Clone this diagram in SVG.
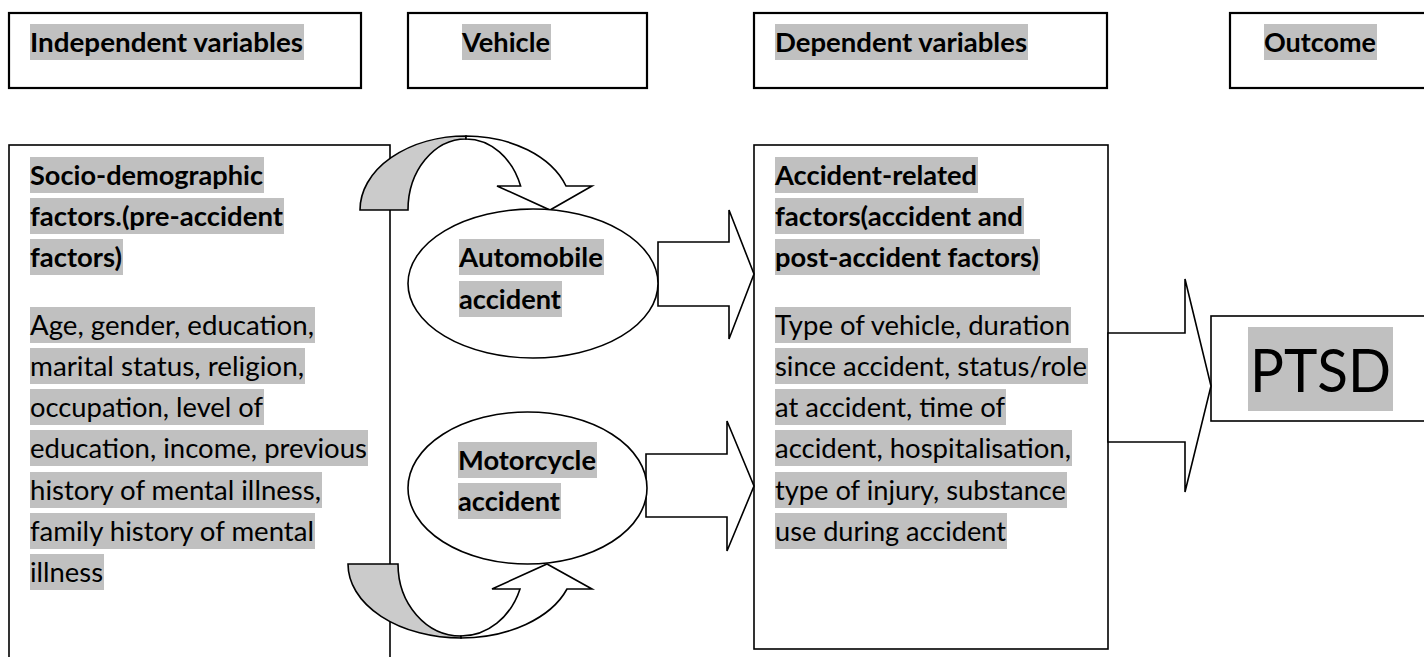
<svg xmlns="http://www.w3.org/2000/svg" width="1424" height="657" viewBox="0 0 1424 657">
<style>
.box{fill:#fff;stroke:#000;stroke-width:1.6}
.hbox{fill:#fff;stroke:#000;stroke-width:2.2}
.hl{fill:#c0c0c0}
.b{font-family:Lato,"Noto Sans",sans-serif;font-weight:bold;font-size:27px;fill:#000}
.r{font-family:Lato,"Noto Sans",sans-serif;font-size:27px;fill:#000}
.big{font-family:Lato,"Noto Sans",sans-serif;font-size:60px;fill:#000}
.arr{fill:#fff;stroke:#000;stroke-width:1.6;stroke-linejoin:miter}
.back{fill:#cbcbcb;stroke:#000;stroke-width:1.6}
</style>
<rect width="1424" height="657" fill="#fff"/>

<g id="hdr-independent">
<rect class="hbox" x="9" y="13" width="352" height="75"/>
<rect class="hl" x="30" y="24" width="274" height="36"/>
<text class="b" x="30" y="52" textLength="273" lengthAdjust="spacingAndGlyphs">Independent variables</text>
</g>
<g id="hdr-vehicle">
<rect class="hbox" x="408" y="13" width="239" height="75"/>
<rect class="hl" x="462" y="24" width="89" height="36"/>
<text class="b" x="462" y="52" textLength="88" lengthAdjust="spacingAndGlyphs">Vehicle</text>
</g>
<g id="hdr-dependent">
<rect class="hbox" x="754" y="13" width="353" height="75"/>
<rect class="hl" x="775" y="24" width="253" height="36"/>
<text class="b" x="775" y="52" textLength="252" lengthAdjust="spacingAndGlyphs">Dependent variables</text>
</g>
<g id="hdr-outcome">
<rect class="hbox" x="1230" y="13" width="220" height="75"/>
<rect class="hl" x="1264" y="24" width="113" height="36"/>
<text class="b" x="1264" y="52" textLength="112" lengthAdjust="spacingAndGlyphs">Outcome</text>
</g>

<g id="socio">
<rect class="box" x="9" y="145" width="381" height="560"/>
<rect class="hl" x="30" y="157" width="234" height="36"/>
<rect class="hl" x="30" y="198" width="254" height="36"/>
<rect class="hl" x="30" y="239" width="93" height="36"/>
<rect class="hl" x="30" y="307" width="285" height="36"/>
<rect class="hl" x="30" y="348" width="275" height="36"/>
<rect class="hl" x="30" y="389" width="234" height="36"/>
<rect class="hl" x="30" y="430" width="338" height="36"/>
<rect class="hl" x="30" y="472" width="292" height="36"/>
<rect class="hl" x="30" y="513" width="285" height="36"/>
<rect class="hl" x="30" y="554" width="74" height="36"/>
<text class="b" x="30" y="185" textLength="233" lengthAdjust="spacingAndGlyphs">Socio-demographic</text>
<text class="b" x="30" y="226" textLength="253" lengthAdjust="spacingAndGlyphs">factors.(pre-accident</text>
<text class="b" x="30" y="267" textLength="92" lengthAdjust="spacingAndGlyphs">factors)</text>
<text class="r" x="30" y="335" textLength="284" lengthAdjust="spacingAndGlyphs">Age, gender, education,</text>
<text class="r" x="30" y="376" textLength="274" lengthAdjust="spacingAndGlyphs">marital status, religion,</text>
<text class="r" x="30" y="417" textLength="233" lengthAdjust="spacingAndGlyphs">occupation, level of</text>
<text class="r" x="30" y="458" textLength="337" lengthAdjust="spacingAndGlyphs">education, income, previous</text>
<text class="r" x="30" y="500" textLength="291" lengthAdjust="spacingAndGlyphs">history of mental illness,</text>
<text class="r" x="30" y="541" textLength="284" lengthAdjust="spacingAndGlyphs">family history of mental</text>
<text class="r" x="30" y="582" textLength="73" lengthAdjust="spacingAndGlyphs">illness</text>
</g>

<g id="accident-factors">
<rect class="box" x="754" y="145" width="354" height="504"/>
<rect class="hl" x="775" y="157" width="203" height="36"/>
<rect class="hl" x="775" y="198" width="249" height="36"/>
<rect class="hl" x="775" y="239" width="265" height="36"/>
<rect class="hl" x="775" y="307" width="296" height="36"/>
<rect class="hl" x="775" y="348" width="313" height="36"/>
<rect class="hl" x="775" y="389" width="231" height="36"/>
<rect class="hl" x="775" y="430" width="297" height="36"/>
<rect class="hl" x="775" y="472" width="292" height="36"/>
<rect class="hl" x="775" y="513" width="232" height="36"/>
<text class="b" x="775" y="185" textLength="202" lengthAdjust="spacingAndGlyphs">Accident-related</text>
<text class="b" x="775" y="226" textLength="248" lengthAdjust="spacingAndGlyphs">factors(accident and</text>
<text class="b" x="775" y="267" textLength="264" lengthAdjust="spacingAndGlyphs">post-accident factors)</text>
<text class="r" x="775" y="335" textLength="295" lengthAdjust="spacingAndGlyphs">Type of vehicle, duration</text>
<text class="r" x="775" y="376" textLength="312" lengthAdjust="spacingAndGlyphs">since accident, status/role</text>
<text class="r" x="775" y="417" textLength="230" lengthAdjust="spacingAndGlyphs">at accident, time of</text>
<text class="r" x="775" y="458" textLength="296" lengthAdjust="spacingAndGlyphs">accident, hospitalisation,</text>
<text class="r" x="775" y="500" textLength="291" lengthAdjust="spacingAndGlyphs">type of injury, substance</text>
<text class="r" x="775" y="541" textLength="231" lengthAdjust="spacingAndGlyphs">use during accident</text>
</g>

<g id="ptsd">
<rect class="box" x="1211" y="316" width="240" height="105"/>
<rect class="hl" x="1248" y="327" width="145" height="84"/>
<text class="big" x="1250" y="392" textLength="141" lengthAdjust="spacingAndGlyphs">PTSD</text>
</g>

<g id="connectors">
<polygon class="arr" points="658,242 729,242 729,210 754,274 729,339 729,306 658,306"/>
<polygon class="arr" points="646,454 727,454 727,421 754,486 727,551 727,517 646,517"/>
<polygon class="arr" points="1108,333 1185,333 1185,279 1211,386 1185,492 1185,442 1108,442"/>
<path class="back" d="M360,210 A106,74 0 0 1 466,136 L466,139 A58,71 0 0 0 408,210 Z"/>
<path class="arr" d="M466,139 A58,71 0 0 1 520.6,186 L497,186 L550,210 L592,186 L566,186 A106,74 0 0 0 466,136 Z"/>
<path class="back" d="M348,564 A113,74 0 0 0 461,638 L461,636 A63,72 0 0 1 398,564 Z"/>
<path class="arr" d="M461,636 A63,72 0 0 0 520,589 L492,589 L547,564 L592,589 L567,589 A113,74 0 0 1 461,638 Z"/>
</g>

<g id="automobile">
<ellipse class="box" cx="533" cy="283.5" rx="125" ry="74.5"/>
<rect class="hl" x="459" y="239" width="145" height="36"/>
<rect class="hl" x="459" y="281" width="103" height="36"/>
<text class="b" x="459" y="267" textLength="144" lengthAdjust="spacingAndGlyphs">Automobile</text>
<text class="b" x="459" y="309" textLength="102" lengthAdjust="spacingAndGlyphs">accident</text>
</g>

<g id="motorcycle">
<ellipse class="box" cx="527.5" cy="488" rx="119.5" ry="76"/>
<rect class="hl" x="458" y="442" width="139" height="36"/>
<rect class="hl" x="458" y="483" width="103" height="36"/>
<text class="b" x="458" y="470" textLength="138" lengthAdjust="spacingAndGlyphs">Motorcycle</text>
<text class="b" x="458" y="511" textLength="102" lengthAdjust="spacingAndGlyphs">accident</text>
</g>
</svg>
